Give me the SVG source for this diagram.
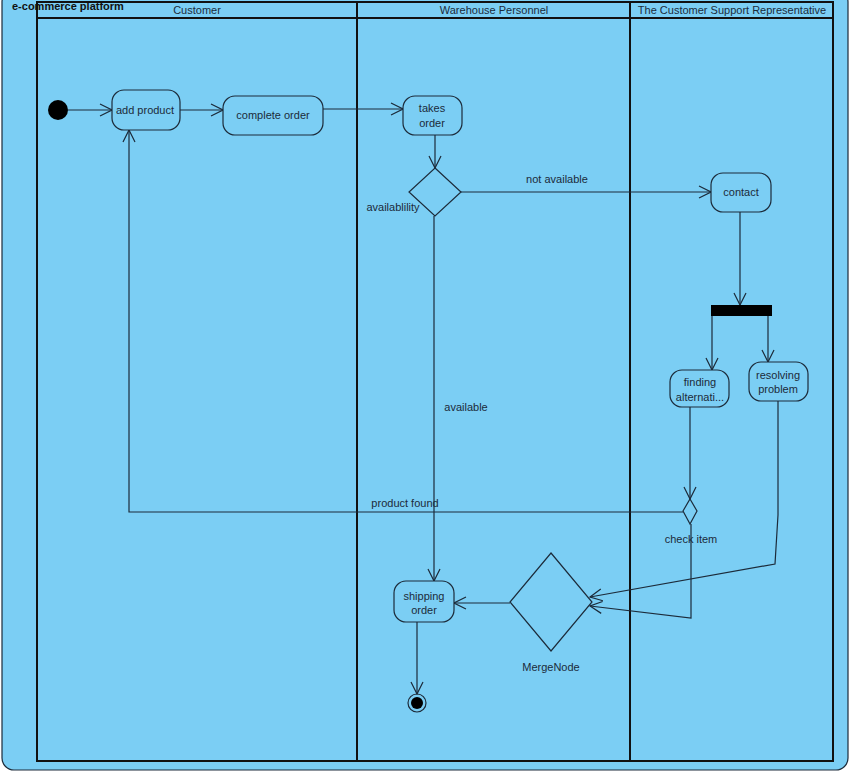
<svg xmlns="http://www.w3.org/2000/svg" width="851" height="774" viewBox="0 0 851 774">
<style>
.t{font-family:"Liberation Sans",Arial,sans-serif;font-size:11px;fill:#1c2b3a;text-anchor:middle}
.n{fill:#7bcef4;stroke:#1c2b3a;stroke-width:1.2}
.c{fill:none;stroke:#1c2b3a;stroke-width:1.2}
.lane{fill:none;stroke:#111;stroke-width:2}
</style>
<defs>
<marker id="a" viewBox="0 0 14 14" refX="13" refY="7" markerWidth="14" markerHeight="14" markerUnits="userSpaceOnUse" orient="auto">
<path d="M1,1 L13,7 L1,13" fill="none" stroke="#1c2b3a" stroke-width="1.2"/>
</marker>
</defs>
<rect x="0" y="0" width="851" height="774" fill="#fff"/>
<g id="frame">
<rect x="2" y="-10" width="846" height="780" rx="12" fill="#7bcef4" stroke="#1c2b3a" stroke-width="1.2"/>
<text x="12" y="10" font-family="'Liberation Sans',Arial,sans-serif" font-size="11" font-weight="bold" fill="#111">e-commerce platform</text>
</g>
<g id="lanes">
<rect x="37" y="2" width="796" height="759" class="lane"/>
<line x1="37" y1="18" x2="833" y2="18" class="lane"/>
<line x1="357" y1="2" x2="357" y2="761" class="lane"/>
<line x1="630" y1="2" x2="630" y2="761" class="lane"/>
<text x="197" y="14" class="t">Customer</text>
<text x="494" y="14" class="t">Warehouse Personnel</text>
<text x="732" y="14" class="t">The Customer Support Representative</text>
</g>
<g id="connectors">
<line x1="68" y1="110" x2="112" y2="110" class="c" marker-end="url(#a)"/>
<line x1="180" y1="110" x2="223" y2="110" class="c" marker-end="url(#a)"/>
<line x1="323" y1="109" x2="403" y2="109" class="c" marker-end="url(#a)"/>
<line x1="435" y1="135" x2="435" y2="168" class="c" marker-end="url(#a)"/>
<line x1="461" y1="192" x2="711" y2="192" class="c" marker-end="url(#a)"/>
<text x="557" y="183" class="t">not available</text>
<line x1="434" y1="216" x2="434" y2="581" class="c" marker-end="url(#a)"/>
<text x="466" y="411" class="t">available</text>
<line x1="740" y1="212" x2="740" y2="305" class="c" marker-end="url(#a)"/>
<line x1="712" y1="316" x2="712" y2="370" class="c" marker-end="url(#a)"/>
<line x1="768" y1="316" x2="768" y2="362" class="c" marker-end="url(#a)"/>
<line x1="690" y1="407" x2="690" y2="499" class="c" marker-end="url(#a)"/>
<polyline points="683,512 129,512 129,130" class="c" marker-end="url(#a)"/>
<text x="405" y="507" class="t">product found</text>
<polyline points="691,524 691,618 590,606" class="c" marker-end="url(#a)"/>
<polyline points="778,401 778,515 775,564 590,597" class="c" marker-end="url(#a)"/>
<line x1="510" y1="603" x2="454" y2="603" class="c" marker-end="url(#a)"/>
<line x1="417" y1="622" x2="417" y2="694" class="c" marker-end="url(#a)"/>
</g>
<g id="initial"><circle cx="58" cy="110" r="10" fill="#000"/></g>
<g id="add-product"><rect x="112" y="90" width="68" height="40" rx="12" class="n"/><text x="145" y="114" class="t">add product</text></g>
<g id="complete-order"><rect x="223" y="96" width="100" height="39" rx="12" class="n"/><text x="273" y="119" class="t">complete order</text></g>
<g id="takes-order"><rect x="403" y="96" width="59" height="39" rx="12" class="n"/><text x="432" y="112" class="t">takes</text><text x="432" y="127" class="t">order</text></g>
<g id="availability"><polygon points="435,168 461,192 435,216 409,192" class="n"/><text x="393" y="211" class="t">availablility</text></g>
<g id="contact"><rect x="711" y="173" width="60" height="39" rx="12" class="n"/><text x="741" y="196" class="t">contact</text></g>
<g id="fork"><rect x="711" y="305" width="61" height="11" fill="#000"/></g>
<g id="finding-alternatives"><rect x="670" y="370" width="59" height="37" rx="12" class="n"/><text x="700" y="386" class="t">finding</text><text x="700" y="401" class="t">alternati...</text></g>
<g id="resolving-problem"><rect x="749" y="362" width="59" height="39" rx="12" class="n"/><text x="778" y="379" class="t">resolving</text><text x="778" y="393" class="t">problem</text></g>
<g id="check-item"><polygon points="690,499 697,511 690,524 683,511" class="n"/><text x="691" y="543" class="t">check item</text></g>
<g id="merge-node"><polygon points="551,553 592,602 551,651 510,602" class="n"/><text x="551" y="671" class="t">MergeNode</text></g>
<g id="shipping-order"><rect x="394" y="581" width="60" height="41" rx="12" class="n"/><text x="424" y="600" class="t">shipping</text><text x="424" y="614" class="t">order</text></g>
<g id="final"><circle cx="417" cy="703" r="9" fill="none" stroke="#1c2b3a" stroke-width="1.2"/><circle cx="417" cy="703" r="6" fill="#000"/></g>
</svg>
